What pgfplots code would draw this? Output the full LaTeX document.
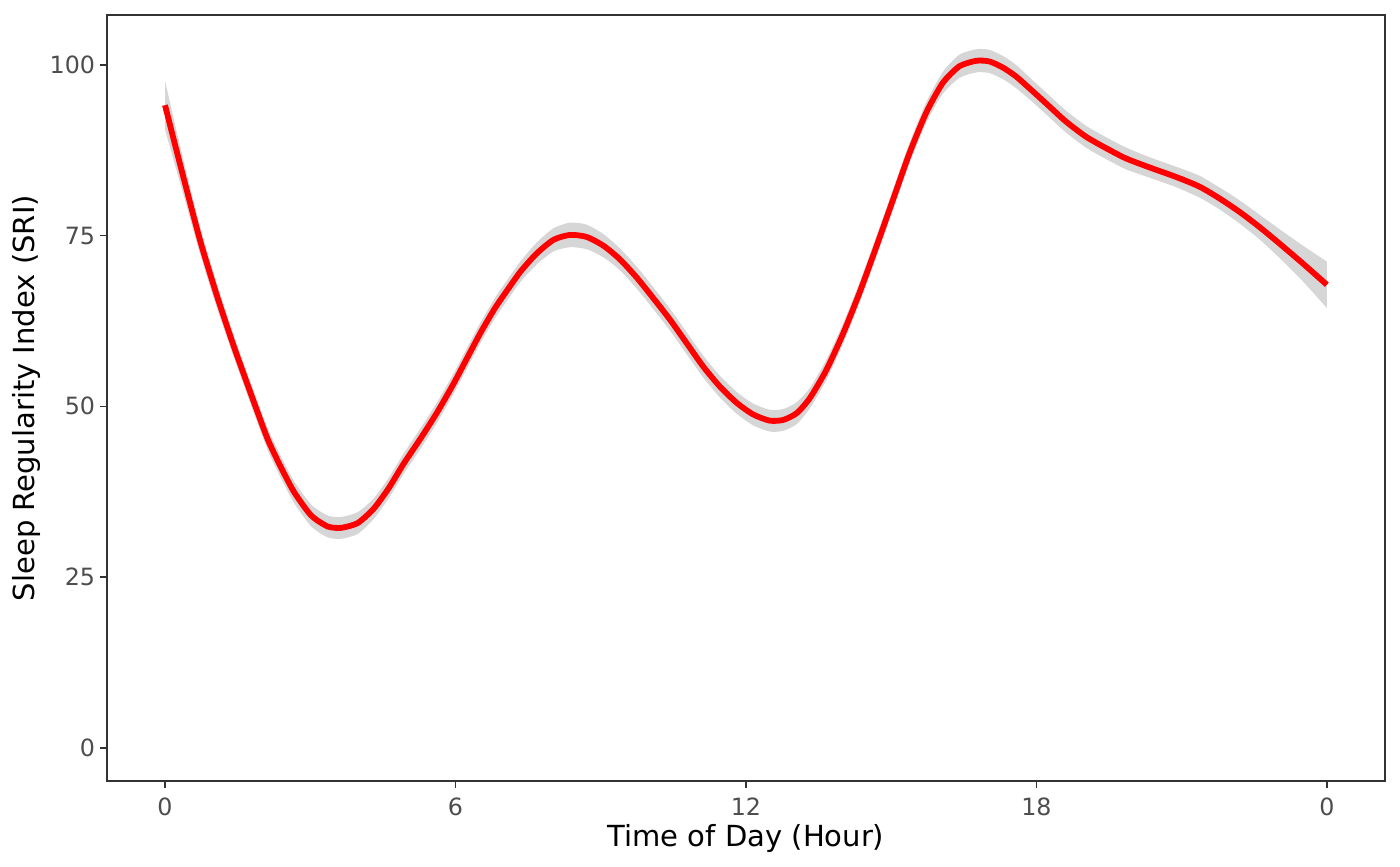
\documentclass[border=0pt]{standalone}
\usepackage{fontspec}
\setmainfont{DejaVu Sans}
\usepackage{pgfplots}
\usepackage{pgfplotstable}
\pgfplotsset{compat=1.18}
\usepgfplotslibrary{fillbetween}
\definecolor{bandgrey}{HTML}{D6D6D6}
\definecolor{tickgrey}{HTML}{4D4D4D}
\definecolor{framegrey}{HTML}{333333}
\pgfplotstableread{
x y lo hi
0.00 94.1 90.5 97.7
0.20 88.5 85.5 91.5
0.40 83.0 80.5 85.5
0.74 73.9 71.9 75.9
1.09 65.8 64.0 67.6
1.43 58.6 57.0 60.2
1.77 51.9 50.3 53.5
2.12 45.2 43.6 46.8
2.40 41.0 39.4 42.6
2.67 37.4 35.8 39.0
3.02 34.0 32.4 35.6
3.36 32.4 30.8 34.0
3.64 32.2 30.6 33.8
3.98 32.9 31.3 34.5
4.31 35.0 33.5 36.5
4.62 38.0 36.5 39.5
4.93 41.6 40.1 43.1
5.28 45.3 43.8 46.8
5.62 49.1 47.6 50.6
5.96 53.3 51.8 54.8
6.25 57.2 55.7 58.7
6.52 60.8 59.3 62.3
6.80 64.2 62.7 65.7
7.00 66.3 64.8 67.8
7.34 69.7 68.2 71.2
7.68 72.4 70.8 74.0
8.03 74.4 72.7 76.1
8.37 75.1 73.3 76.9
8.71 74.8 73.0 76.6
9.06 73.5 71.8 75.2
9.40 71.5 69.9 73.1
9.75 68.8 67.2 70.4
10.09 65.8 64.2 67.4
10.43 62.7 61.1 64.3
10.78 59.2 57.6 60.8
11.12 55.8 54.2 57.4
11.46 52.9 51.3 54.5
11.81 50.5 48.9 52.1
12.15 48.8 47.2 50.4
12.49 47.9 46.3 49.5
12.77 48.0 46.4 49.6
13.05 49.0 47.4 50.6
13.32 51.2 49.7 52.7
13.66 55.3 53.8 56.8
14.01 60.7 59.2 62.2
14.35 66.7 65.2 68.2
14.69 73.3 71.8 74.8
15.04 80.3 78.8 81.8
15.38 87.1 85.6 88.6
15.73 93.1 91.6 94.6
16.07 97.4 95.8 99.0
16.41 99.8 98.1 101.5
16.76 100.6 98.9 102.3
17.03 100.5 98.8 102.2
17.31 99.6 97.9 101.3
17.58 98.3 96.6 100.0
17.93 96.1 94.5 97.7
18.27 93.9 92.3 95.5
18.61 91.7 90.1 93.3
19.02 89.5 87.9 91.1
19.44 87.8 86.2 89.4
19.85 86.3 84.7 87.9
20.33 85.0 83.5 86.5
20.88 83.6 82.1 85.1
21.36 82.2 80.6 83.8
21.77 80.5 78.9 82.1
22.19 78.5 76.8 80.2
22.60 76.3 74.5 78.1
23.01 73.9 71.8 76.0
23.49 71.0 68.4 73.6
24.00 67.8 64.4 71.2
}\sridata
\begin{document}
\begin{tikzpicture}
\begin{axis}[
  at={(0,0)}, anchor=south west,
  scale only axis,
  width=484.1pt, height=290.2pt,
  xmin=-1.2, xmax=25.2,
  ymin=-4.9, ymax=107.3,
  xtick={0,6,12,18,24},
  xticklabels={0,6,12,18,0},
  ytick={0,25,50,75,100},
  tick align=outside,
  major tick length=2.7pt,
  tick style={draw=framegrey, line width=0.6pt},
  xtick pos=bottom, ytick pos=left,
  axis line style={draw=framegrey, line width=0.6pt},
  /pgf/number format/assume math mode=true,
  tick label style={font=\fontsize{9}{10.5}\selectfont, text=tickgrey},
  xticklabel style={anchor=north, inner sep=0pt, yshift=-3.3pt},
  yticklabel style={anchor=east, inner sep=0pt, xshift=-1.6pt},
  xlabel={Time of Day (Hour)},
  ylabel={Sleep Regularity Index (SRI)},
  every axis x label/.style={at={(rel axis cs:0.5,0)}, anchor=base, yshift=-24.6pt, font=\fontsize{11}{13}\selectfont, text=black},
  every axis y label/.style={at={(rel axis cs:0,0.5)}, xshift=-30.5pt, rotate=90, anchor=center, font=\fontsize{11}{13}\selectfont, text=black},
]
\addplot[draw=none, name path=hi, forget plot, smooth, tension=0.4] table[x=x, y=hi] {\sridata};
\addplot[draw=none, name path=lo, forget plot, smooth, tension=0.4] table[x=x, y=lo] {\sridata};
\addplot[fill=bandgrey, draw=none, forget plot] fill between[of=hi and lo];
\addplot[red, line width=2.2pt, line join=round, smooth, tension=0.4] table[x=x, y=y] {\sridata};
\end{axis}
\path (-40.5pt,-32.2pt) rectangle (489.8pt,295.9pt);
\end{tikzpicture}
\end{document}
